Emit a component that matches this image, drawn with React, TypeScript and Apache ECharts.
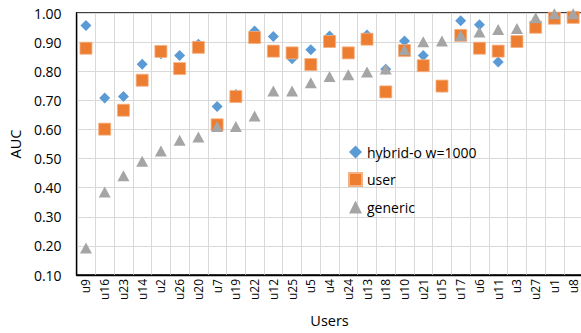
import React, { useEffect, useRef } from "react";
import * as echarts from "echarts";

const users = ["u9","u16","u23","u14","u2","u26","u20","u7","u19","u22","u12","u25","u5","u4","u24","u13","u18","u10","u21","u15","u17","u6","u11","u3","u27","u1","u8"];
const hybrid = [0.957,0.708,0.713,0.824,0.86,0.854,0.893,0.679,0.72,0.938,0.919,0.843,0.874,0.921,0.865,0.924,0.807,0.904,0.854,0.745,0.973,0.96,0.832,0.9,0.955,0.985,0.99];
const user = [0.879,0.601,0.666,0.769,0.868,0.809,0.882,0.616,0.713,0.916,0.869,0.863,0.823,0.902,0.863,0.91,0.729,0.871,0.819,0.749,0.923,0.879,0.869,0.902,0.951,0.982,0.985];
const generic = [0.193,0.385,0.441,0.491,0.526,0.563,0.574,0.61,0.61,0.646,0.732,0.732,0.76,0.782,0.788,0.797,0.808,0.874,0.901,0.904,0.923,0.935,0.943,0.947,0.984,0.997,0.997];
const seriesNames = ["hybrid-o w=1000", "user", "generic"];

const FONT = "'Open Sans', 'Noto Sans', sans-serif";

export default function App() {
  const ref = useRef<HTMLDivElement>(null);
  useEffect(() => {
    document.body.style.margin = "0";
    document.body.style.overflow = "hidden";
    const chart = echarts.init(ref.current!, null, { renderer: "svg" });
    chart.setOption({
      animation: false,
      backgroundColor: "#fff",
      textStyle: { fontFamily: FONT },
      grid: {
        left: 67, right: 1.5, top: 13, bottom: 50,
        show: true, borderColor: "#000", borderWidth: 1.3,
      },
      legend: {
        orient: "vertical",
        left: 343, top: 140,
        itemGap: 13,
        itemWidth: 13, itemHeight: 13,
        textStyle: { fontFamily: FONT, fontSize: 14, color: "#000" },
        data: [
          { name: seriesNames[0], icon: "diamond" },
          { name: seriesNames[1], icon: "rect" },
          { name: seriesNames[2], icon: "triangle" },
        ],
      },
      xAxis: {
        type: "category",
        data: users,
        boundaryGap: true,
        name: "Users",
        nameLocation: "middle",
        nameGap: 38,
        nameTextStyle: { fontFamily: FONT, fontSize: 14.5, color: "#000" },
        axisLine: { lineStyle: { color: "#000", width: 1.3 } },
        axisTick: { show: false },
        axisLabel: { rotate: 90, fontSize: 12, color: "#000", margin: 4, interval: 0, fontFamily: FONT },
        splitLine: { show: true, interval: 0, lineStyle: { color: "#d9d9d9", width: 1 } },
      },
      yAxis: {
        type: "value",
        min: 0.1, max: 1.0, interval: 0.1,
        name: "AUC",
        nameLocation: "middle",
        nameRotate: 90,
        nameGap: 48,
        nameTextStyle: { fontFamily: FONT, fontSize: 14.5, color: "#000" },
        axisLine: { show: true, lineStyle: { color: "#000", width: 1.3 } },
        axisTick: { show: false },
        axisLabel: {
          fontSize: 14, color: "#000", margin: 15, fontFamily: FONT,
          formatter: (v: number) => v.toFixed(2),
        },
        splitLine: { show: true, lineStyle: { color: "#d9d9d9", width: 1 } },
      },
      series: [
        { name: seriesNames[0], type: "scatter", data: hybrid, symbol: "diamond", symbolSize: 11, itemStyle: { color: "#5B9BD5", opacity: 1 } },
        { name: seriesNames[1], type: "scatter", data: user, symbol: "rect", symbolSize: 12, itemStyle: { color: "#ED7D31", opacity: 1, borderColor: "#F4B183", borderWidth: 0.8 } },
        { name: seriesNames[2], type: "scatter", data: generic, symbol: "triangle", symbolSize: [12, 11], itemStyle: { color: "#A5A5A5", opacity: 1 } },
      ],
    });
    return () => chart.dispose();
  }, []);
  return <div ref={ref} style={{ position: "fixed", left: 0, top: 0, width: 584, height: 333 }} />;
}
